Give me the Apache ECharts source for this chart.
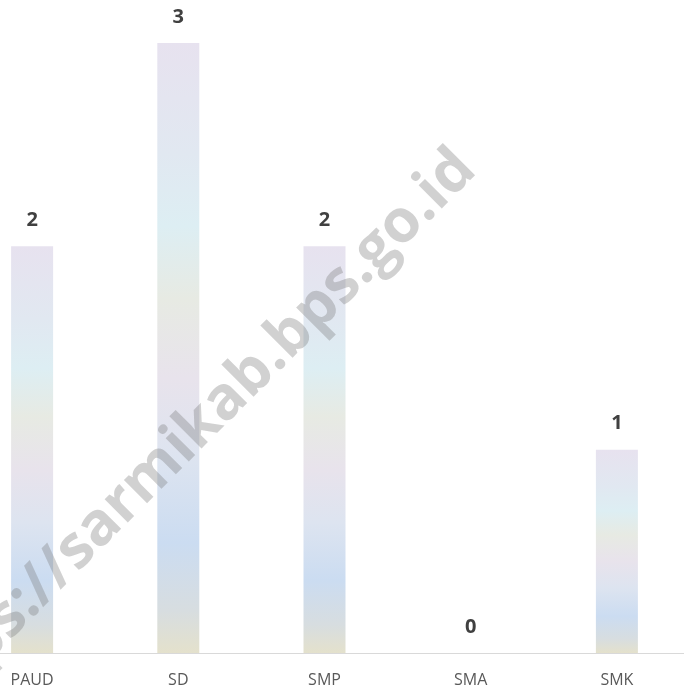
<!DOCTYPE html>
<html>
<head>
<meta charset="utf-8">
<title>Jumlah Sekolah</title>
<script src="https://cdn.jsdelivr.net/npm/echarts@6/dist/echarts.min.js"></script>
<style>
    html, body { margin: 0; padding: 0; background: #fff; }
    #chart-main { width: 684px; height: 693px; }
</style>
</head>
<body>
<div id="chart-main"></div>
<script>
    'use strict';

    var categories = ['PAUD', 'SD', 'SMP', 'SMA', 'SMK'];
    var values = [2, 3, 2, 0, 1];

    // pastel "iridescent" fill, top to bottom
    var barFill = new echarts.graphic.LinearGradient(0, 0, 0, 1, [
        {offset: 0, color: '#e7e2ef'},
        {offset: 0.18, color: '#e1e8f1'},
        {offset: 0.3, color: '#ddeef3'},
        {offset: 0.42, color: '#e7eae3'},
        {offset: 0.55, color: '#e8e3ec'},
        {offset: 0.68, color: '#dde4f0'},
        {offset: 0.82, color: '#cbdcf1'},
        {offset: 0.93, color: '#d7dde0'},
        {offset: 1, color: '#e4e1cc'}
    ]);

    var option = {
        animation: false,
        backgroundColor: '#ffffff',
        grid: {
            left: -41,
            right: -6,
            top: 43,
            bottom: 40,
            outerBoundsMode: 'none',
            containLabel: false
        },
        xAxis: {
            type: 'category',
            data: categories,
            axisLine: {lineStyle: {color: '#d9d9d9', width: 1}},
            axisTick: {show: false},
            axisLabel: {
                color: '#595959',
                fontSize: 16,
                fontFamily: 'Open Sans',
                margin: 19
            }
        },
        yAxis: {
            type: 'value',
            min: 0,
            max: 3,
            show: false,
            splitLine: {show: false}
        },
        series: [
            {
                type: 'bar',
                data: values,
                barWidth: 42,
                itemStyle: {color: barFill},
                label: {
                    show: true,
                    position: 'top',
                    distance: 16,
                    color: '#404040',
                    fontSize: 20,
                    fontWeight: 'bold',
                    fontFamily: 'Open Sans'
                }
            }
        ],
        graphic: [
            {
                type: 'text',
                x: 186,
                y: 440,
                rotation: Math.PI / 4,
                z: 100,
                style: {
                    text: 'https://sarmikab.bps.go.id',
                    font: 'bold 60px "Open Sans"',
                    fill: 'rgba(120,120,120,0.34)',
                    align: 'center',
                    verticalAlign: 'middle'
                }
            }
        ]
    };

    var myChart = echarts.init(document.getElementById('chart-main'));
    myChart.setOption(option);
</script>
</body>
</html>
